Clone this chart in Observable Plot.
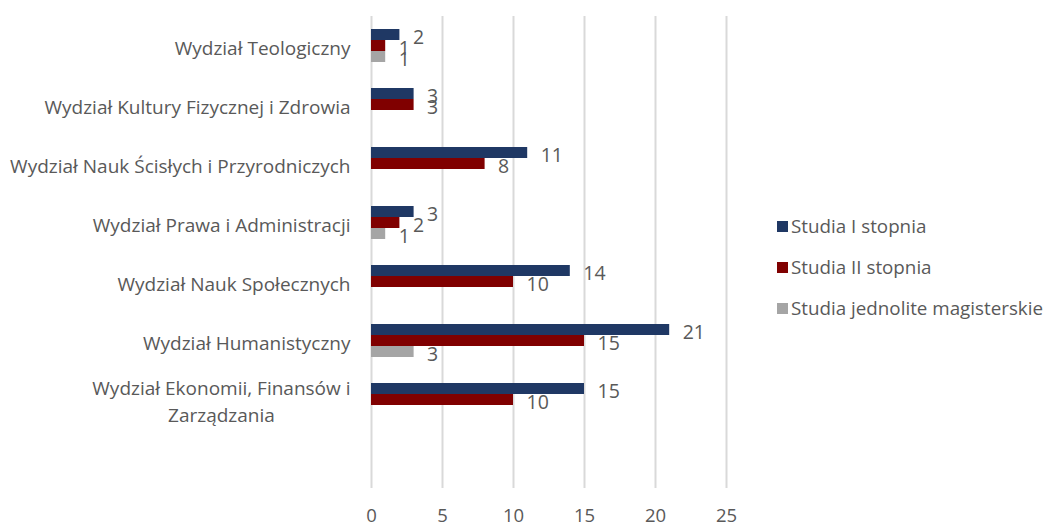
<!DOCTYPE html>
<html>
<head>
<meta charset="utf-8">
<script src="https://cdn.jsdelivr.net/npm/d3@7"></script>
<script src="https://cdn.jsdelivr.net/npm/@observablehq/plot@0.6"></script>
<style>
  html, body { margin: 0; padding: 0; background: #fff; }
  #wrap { position: relative; width: 1046px; height: 526px; font-family: "Open Sans", Lato, sans-serif; }
  #legend { position: absolute; left: 777px; top: 213px; color: #595959; font-size: 18.8px; }
  #legend .row { display: flex; align-items: center; height: 26px; margin-bottom: 15px; white-space: nowrap; }
  #legend .sw { width: 11px; height: 11px; margin-right: 3px; }
</style>
</head>
<body>
<div id="wrap"><div id="legend"></div></div>
<script>
const categories = [
  "Wydział Teologiczny",
  "Wydział Kultury Fizycznej i Zdrowia",
  "Wydział Nauk Ścisłych i Przyrodniczych",
  "Wydział Prawa i Administracji",
  "Wydział Nauk Społecznych",
  "Wydział Humanistyczny",
  "Wydział Ekonomii, Finansów i Zarządzania",
  " "
];
const series = ["Studia I stopnia", "Studia II stopnia", "Studia jednolite magisterskie"];
const colors = ["#1F3864", "#800000", "#A5A5A5"];
const studiaI   = [2, 3, 11, 3, 14, 21, 15];
const studiaII  = [1, 3, 8, 2, 10, 15, 10];
const studiaJM  = [1, 0, 0, 1, 0, 3, 0];
const xTicks = [0, 5, 10, 15, 20, 25];

const seriesValues = [studiaI, studiaII, studiaJM];
const data = [];
categories.slice(0, 7).forEach((c, i) => {
  series.forEach((s, j) => {
    const v = seriesValues[j][i];
    if (v > 0) data.push({category: c, series: s, value: v});
  });
});

const labelFormat = c => c === "Wydział Ekonomii, Finansów i Zarządzania" ? "Wydział Ekonomii, Finansów i\nZarządzania" : c;

const plot = Plot.plot({
  width: 1046,
  height: 526,
  marginLeft: 371,
  marginRight: 320,
  marginTop: 14,
  marginBottom: 36,
  style: {fontFamily: "'Open Sans', Lato, sans-serif", fontSize: "19px", color: "#595959", background: "transparent"},
  x: {domain: [0, 25], ticks: xTicks},
  y: {domain: series, paddingInner: 0, paddingOuter: 0.98, axis: null},
  fy: {domain: categories, padding: 0},
  color: {domain: series, range: colors},
  marks: [
    // keeps the empty bottom row of the category axis present
    Plot.dot(categories, {fy: d => d, x: 0, r: 0, fill: "none", stroke: "none"}),
    Plot.gridX(xTicks, {stroke: "#d9d9d9", strokeOpacity: 1, strokeWidth: 2}),
    Plot.barX(data, {x: "value", y: "series", fy: "category", fill: "series"}),
    Plot.text(data, {x: "value", y: "series", fy: "category", text: d => String(d.value), textAnchor: "start", dx: 13, dy: 3, fill: "#595959", fontSize: 19.5}),
    Plot.axisX(xTicks, {anchor: "bottom", tickSize: 0, tickPadding: 20, label: null, fontSize: 18.5}),
    Plot.axisFy({anchor: "left", tickSize: 0, tickPadding: 21, label: null, tickFormat: labelFormat, lineHeight: 1.4, fontSize: 19})
  ]
});
document.getElementById("wrap").prepend(plot);
plot.style.position = "absolute";
plot.style.left = "0px";
plot.style.top = "0px";

// center the wrapped second line under the first, like the original
plot.querySelectorAll("text").forEach(t => {
  const ts = t.querySelectorAll("tspan");
  if (ts.length > 1) {
    const w = ts[0].getComputedTextLength();
    ts[1].setAttribute("x", -w / 2);
    ts[1].setAttribute("text-anchor", "middle");
  }
});

const legend = document.getElementById("legend");
series.forEach((s, i) => {
  const row = document.createElement("div");
  row.className = "row";
  const sw = document.createElement("div");
  sw.className = "sw";
  sw.style.background = colors[i];
  const lab = document.createElement("span");
  lab.textContent = s;
  row.append(sw, lab);
  legend.append(row);
});
</script>
</body>
</html>
